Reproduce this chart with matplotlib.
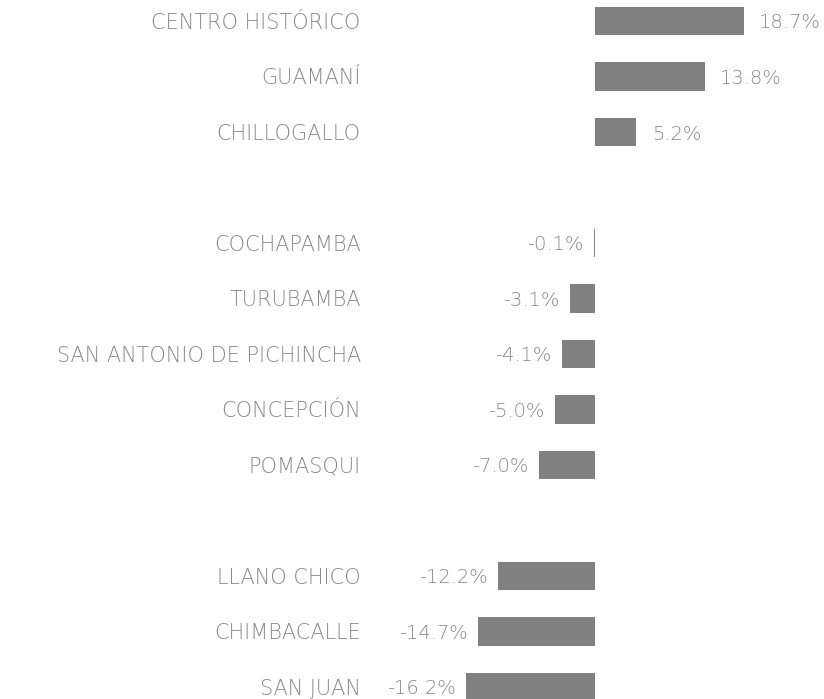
import matplotlib.pyplot as plt

# parroquias and their change (%)
parroquias = ['CENTRO HISTÓRICO', 'GUAMANÍ', 'CHILLOGALLO',
              'COCHAPAMBA', 'TURUBAMBA', 'SAN ANTONIO DE PICHINCHA',
              'CONCEPCIÓN', 'POMASQUI',
              'LLANO CHICO', 'CHIMBACALLE', 'SAN JUAN']
valores = [18.7, 13.8, 5.2,
           -0.1, -3.1, -4.1, -5.0, -7.0,
           -12.2, -14.7, -16.2]
# row slots, with an empty slot between the groups
filas = [0, 1, 2, 4, 5, 6, 7, 8, 10, 11, 12]

gris = '#808080'
gris_txt = '#888888'
plt.rcParams['font.family'] = ['DejaVu Sans']

W, H = 824, 699
fig = plt.figure(figsize=(W / 100, H / 100), dpi=100)
ax_left = 465
px_per_unit = 7.97
zero_px = 595
ax = fig.add_axes([ax_left / W, 0, 1 - ax_left / W, 1])
ax.set_xlim(-(zero_px - ax_left) / px_per_unit, (W - zero_px) / px_per_unit)
ax.set_ylim(678 / 55.5, -21 / 55.5)

ax.barh(filas, valores, height=0.505, color=gris)

for y, v in zip(filas, valores):
    txt = f'{v:.1f}%'
    if v >= 0:
        ax.annotate(txt, (v, y), xytext=(11, 0), textcoords='offset points',
                    ha='left', va='center_baseline', fontsize=14,
                    color=gris_txt, fontweight='light')
    else:
        ax.annotate(txt, (v, y), xytext=(-7.5, 0), textcoords='offset points',
                    ha='right', va='center_baseline', fontsize=14,
                    color=gris_txt, fontweight='light')

ax.set_yticks(filas)
ax.set_yticklabels(parroquias, fontsize=15, color=gris_txt,
                   fontweight='light', va='center_baseline')
ax.tick_params(axis='y', length=0, pad=75)
ax.set_xticks([])
for s in ax.spines.values():
    s.set_visible(False)

fig.savefig('out.png', dpi=100)
